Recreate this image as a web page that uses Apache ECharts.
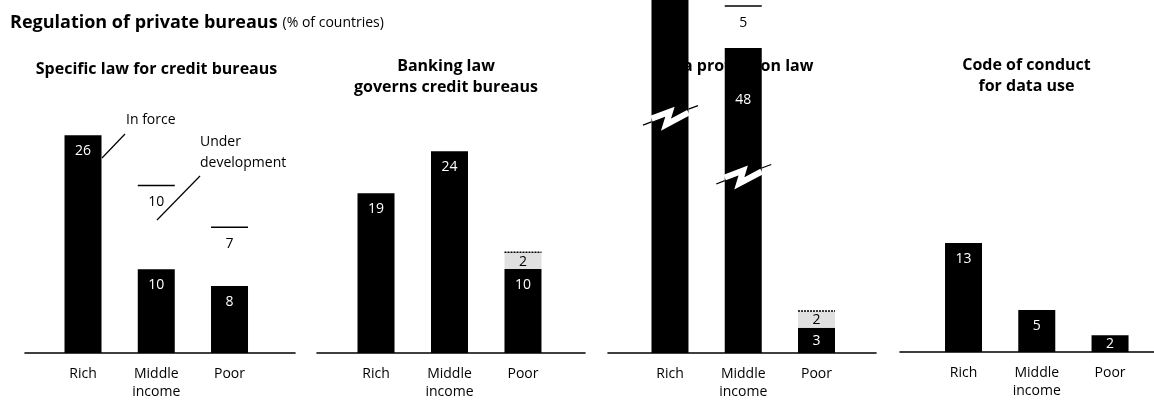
<!DOCTYPE html>
<html>
<head>
<meta charset="utf-8">
<script src="https://cdn.jsdelivr.net/npm/echarts@6/dist/echarts.min.js"></script>
<style>
html,body{margin:0;padding:0;background:#fff;}
#chart{width:1154px;height:401px;}
</style>
</head>
<body>
<div id="chart"></div>
<script>
// ---------- data (% of countries) ----------
const categories = ['Rich', 'Middle\nincome', 'Poor'];
const mainTitle = 'Regulation of private bureaus';
const mainUnit = '(% of countries)';
const panelTitles = [
  'Specific law for credit bureaus',
  'Banking law\ngoverns credit bureaus',
  'Data protection law',
  'Code of conduct\nfor data use'
];
const specificLawInForce = [26, 10, 8];
const specificLawUnderDev = [null, 10, 7];
const bankingLawInForce = [19, 24, 10];
const bankingLawUnderDev = [null, null, 2];
const dataProtectionInForce = [84, 48, 3];
const dataProtectionUnderDev = [null, 5, 2];
const codeOfConductInForce = [13, 5, 2];
const codeOfConductUnderDev = [null, null, null];
// broken bars in the data-protection panel: value where the bar is broken, and amount of scale removed
const dataProtectionBreakAt = [28, 21, null];
const dataProtectionBreakCut = [30, 11.7, 0];
const legendInForce = 'In force';
const legendUnderDev = 'Under\ndevelopment';

// ---------- layout ----------
const FONT = "'Open Sans', sans-serif";
const PX_PER_UNIT = 8.45;
const YMAX = 42;
const BAR_W = 37;
const panels = [
  {left: 25,  width: 270, baseline: 356, min: 0.208, max: 3.894, titleX: 156.5, titleTop: 59},
  {left: 317, width: 268, baseline: 355, min: 0.197, max: 3.844, titleX: 446,   titleTop: 56},
  {left: 608, width: 268, baseline: 353, min: 0.154, max: 3.812, titleX: 734,   titleTop: 56},
  {left: 900, width: 254, baseline: 352, min: 0.133, max: 3.600, titleX: 1026.5, titleTop: 55}
];
const inForceSets = [specificLawInForce, bankingLawInForce, dataProtectionInForce, codeOfConductInForce];
const underDevSets = [specificLawUnderDev, bankingLawUnderDev, dataProtectionUnderDev, codeOfConductUnderDev];
const udShadedPanels = [false, true, true, false];

const grids = [], xAxes = [], yAxes = [], series = [], titles = [];

titles.push({
  text: '{b|' + mainTitle + '} {n|' + mainUnit + '}',
  left: 10, top: 11, padding: 0,
  textStyle: {
    rich: {
      b: {fontFamily: FONT, fontWeight: 'bold', fontSize: 18, color: '#000', lineHeight: 24},
      n: {fontFamily: FONT, fontWeight: 'normal', fontSize: 14, color: '#000', lineHeight: 24}
    }
  }
});

panels.forEach((p, i) => {
  const h = YMAX * PX_PER_UNIT;
  grids.push({left: p.left, width: p.width, top: p.baseline - h, height: h, containLabel: false});
  xAxes.push({
    type: 'value', gridIndex: i, min: p.min, max: p.max,
    splitLine: {show: false},
    axisTick: {show: false},
    axisLine: {show: true, onZero: false, lineStyle: {color: '#000', width: 1.6}},
    axisLabel: {
      customValues: [1, 2, 3],
      formatter: v => categories[Math.round(v) - 1] || '',
      color: '#000', fontFamily: FONT, fontSize: 14, lineHeight: 18, margin: 12
    }
  });
  yAxes.push({type: 'value', gridIndex: i, min: 0, max: YMAX, show: false, splitLine: {show: false}});
  titles.push({
    text: panelTitles[i], left: p.titleX, top: p.titleTop, textAlign: 'center', padding: 0,
    z: 1,
    textStyle: {fontFamily: FONT, fontWeight: 'bold', fontSize: 16, lineHeight: 21, color: '#000'}
  });

  const inForce = inForceSets[i];
  if (i !== 2) {
    series.push({
      type: 'bar', xAxisIndex: i, yAxisIndex: i, barWidth: BAR_W, z: 2,
      itemStyle: {color: '#000'},
      label: {show: true, position: 'insideTop', distance: 9, color: '#fff', fontFamily: FONT, fontSize: 14},
      data: inForce.map((v, k) => ({
        value: [k + 1, v],
        label: v < 4 ? {position: 'inside'} : undefined
      }))
    });
  } else {
    series.push({
      type: 'custom', xAxisIndex: i, yAxisIndex: i, z: 2,
      encode: {x: 0, y: 1},
      data: inForce.map((v, k) => [k + 1, v,
        dataProtectionBreakAt[k] == null ? NaN : dataProtectionBreakAt[k],
        dataProtectionBreakCut[k]]),
      renderItem: function (params, api) {
        const x = api.value(0), v = api.value(1), brk = api.value(2), cut = api.value(3) || 0;
        const base = api.coord([x, 0]);
        const top = api.coord([x, v - cut]);
        const cx = base[0];
        const ch = [{
          type: 'rect',
          shape: {x: cx - BAR_W / 2, y: top[1], width: BAR_W, height: base[1] - top[1]},
          style: {fill: '#000'}
        }];
        if (isFinite(brk)) {
          const cy = api.coord([x, brk])[1];
          const pts = [[-18.5, 1], [0, -6], [-4, 7], [18.5, -5]].map(q => [cx + q[0], cy + q[1]]);
          ch.push({type: 'polyline', shape: {points: pts},
            style: {stroke: '#fff', lineWidth: 6, fill: null, lineJoin: 'miter', miterLimit: 3}});
          ch.push({type: 'line', shape: {x1: cx - 27, y1: cy + 7.5, x2: cx - 18.5, y2: cy + 4.2},
            style: {stroke: '#000', lineWidth: 1.3}});
          ch.push({type: 'line', shape: {x1: cx + 18.5, y1: cy - 8.5, x2: cx + 28, y2: cy - 12},
            style: {stroke: '#000', lineWidth: 1.3}});
        }
        const hpx = base[1] - top[1];
        let ly;
        if (isFinite(brk)) ly = top[1] + 52;
        else if (hpx < 34) ly = top[1] + hpx / 2 + 1;
        else ly = top[1] + 18;
        if (top[1] >= 0) {
          ch.push({type: 'text', style: {text: String(v), x: cx, y: ly, fill: '#fff',
            font: '14px ' + FONT, align: 'center', verticalAlign: 'middle',
            textAlign: 'center', textVerticalAlign: 'middle'}});
        }
        return {type: 'group', children: ch};
      }
    });
  }

  const ud = underDevSets[i];
  const udData = [];
  ud.forEach((u, k) => {
    if (u == null) return;
    const cut = i === 2 ? (dataProtectionBreakCut[k] || 0) : 0;
    udData.push([k + 1, inForce[k] - cut, u]);
  });
  if (udData.length) {
    const shaded = udShadedPanels[i];
    series.push({
      type: 'custom', xAxisIndex: i, yAxisIndex: i, z: 3,
      encode: {x: 0, y: 1},
      data: udData,
      renderItem: function (params, api) {
        const x = api.value(0), base = api.value(1), u = api.value(2);
        const p0 = api.coord([x, base]);
        const p1 = api.coord([x, base + u]);
        const seg = p0[1] - p1[1];
        const ch = [];
        const small = seg < 30;
        if (shaded && small) {
          ch.push({type: 'rect', shape: {x: p1[0] - BAR_W / 2, y: p1[1], width: BAR_W, height: seg},
            style: {fill: '#e0e0e0'}});
        }
        ch.push({type: 'line', shape: {x1: p1[0] - BAR_W / 2, y1: p1[1], x2: p1[0] + BAR_W / 2, y2: p1[1]},
          style: {stroke: '#000', lineWidth: 1.5, lineDash: (shaded && small) ? [2, 1] : null}});
        ch.push({type: 'text', style: {text: String(u), x: p1[0], y: p1[1] + Math.min(seg / 2 + 1, 17),
          fill: '#000', font: '14px ' + FONT, align: 'center', verticalAlign: 'middle',
          textAlign: 'center', textVerticalAlign: 'middle'}});
        return {type: 'group', children: ch};
      }
    });
  }
});

const chart = echarts.init(document.getElementById('chart'), null, {renderer: 'canvas'});
chart.setOption({
  backgroundColor: '#fff',
  animation: false,
  title: titles,
  grid: grids,
  xAxis: xAxes,
  yAxis: yAxes,
  series: series,
  graphic: [
    {type: 'text', x: 126, y: 120, z: 5,
      style: {text: legendInForce, font: '14px ' + FONT, fill: '#000', verticalAlign: 'middle', textVerticalAlign: 'middle'}},
    {type: 'line', z: 5, shape: {x1: 125, y1: 134, x2: 102, y2: 158}, style: {stroke: '#000', lineWidth: 1.2}},
    {type: 'text', x: 200, y: 131.5, z: 5,
      style: {text: legendUnderDev, font: '14px ' + FONT, lineHeight: 21, fill: '#000', verticalAlign: 'top', textVerticalAlign: 'top'}},
    {type: 'line', z: 5, shape: {x1: 200, y1: 176, x2: 157, y2: 220}, style: {stroke: '#000', lineWidth: 1.2}}
  ]
});
</script>
</body>
</html>
